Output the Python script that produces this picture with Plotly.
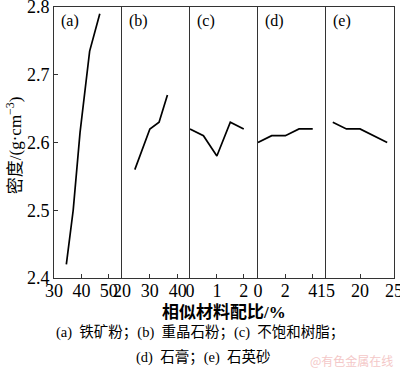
import plotly.graph_objects as go

# ---- data ----
a_x = [34.5, 37.0, 39.5, 43.0, 46.7]
a_y = [2.42, 2.50, 2.615, 2.735, 2.79]
b_x = [24.6, 30.0, 33.3, 36.3]
b_y = [2.56, 2.62, 2.63, 2.67]
c_x = [0, 0.5, 1.0, 1.5, 2.0]
c_y = [2.62, 2.61, 2.58, 2.63, 2.62]
d_x = [0, 1, 2, 3, 4]
d_y = [2.60, 2.61, 2.61, 2.62, 2.62]
e_x = [16, 18, 20, 22, 24]
e_y = [2.63, 2.62, 2.62, 2.61, 2.60]

panel_labels = ["(a)", "(b)", "(c)", "(d)", "(e)"]
x_ranges = [[30, 54.8], [20, 44.4], [0, 2.53], [0, 4.97], [15, 25]]
x_ticks = [[30, 40, 50], [20, 30, 40], [0, 1, 2], [0, 2, 4], [15, 20, 25]]
y_ticks = [2.4, 2.5, 2.6, 2.7, 2.8]
y_range = [2.4, 2.8]

x_title = "相似材料配比/%"
y_title = "密度/(g·cm<sup>−3</sup>)"
caption1 = "(a)  铁矿粉；(b)  重晶石粉；(c)  不饱和树脂；"
caption2 = "(d)  石膏；(e)  石英砂"
watermark = "@有色金属在线"

FONT = "Liberation Serif, Times New Roman, Noto Sans CJK SC, serif"
AXC = "#333333"

series = [(a_x, a_y), (b_x, b_y), (c_x, c_y), (d_x, d_y), (e_x, e_y)]

fig = go.Figure()
layout = dict(
    width=400, height=368,
    margin=dict(l=54, r=6, t=7, b=90, autoexpand=False),
    paper_bgcolor="white", plot_bgcolor="white",
    showlegend=False,
    font=dict(family=FONT, color="black", size=18),
)

n = len(series)
annotations = []
for i, (xs, ys) in enumerate(series):
    k = "" if i == 0 else str(i + 1)
    fig.add_trace(go.Scatter(
        x=xs, y=ys, mode="lines",
        line=dict(color="black", width=1.7),
        xaxis="x" + k, yaxis="y" + k,
        hoverinfo="skip", cliponaxis=False,
    ))
    layout["xaxis" + k] = dict(
        domain=[i / n, (i + 1) / n],
        range=x_ranges[i],
        tickmode="array", tickvals=x_ticks[i],
        ticks="inside", ticklen=4, tickcolor=AXC,
        showline=True, mirror=True, linecolor=AXC, linewidth=1,
        showgrid=False, zeroline=False,
        anchor="y" + k, automargin=False, ticklabeloverflow="allow",
        ticklabelstandoff=-4,
        tickfont=dict(family=FONT, size=18, color="black"),
    )
    ydict = dict(
        range=y_range,
        showline=True, mirror=(i == n - 1), linecolor=AXC, linewidth=1,
        showgrid=False, zeroline=False,
        anchor="x" + k, automargin=False,
    )
    if i == 0:
        ydict.update(
            tickmode="array", tickvals=y_ticks, tickformat=".1f",
            ticks="inside", ticklen=4, tickcolor=AXC, ticklabeloverflow="allow",
            tickfont=dict(family=FONT, size=18, color="black"),
        )
    else:
        ydict.update(matches="y", showticklabels=False, ticks="")
    layout["yaxis" + k] = ydict

    annotations.append(dict(
        text=panel_labels[i], xref="x" + k + " domain", yref="y" + k + " domain",
        x=0, y=1, xanchor="left", yanchor="top", xshift=5, yshift=-3,
        showarrow=False, font=dict(family=FONT, size=16, color="black"),
    ))

annotations += [
    dict(text="<b>" + x_title + "</b>", xref="paper", yref="paper",
         x=0.5, y=0, yshift=-34, xanchor="center", yanchor="middle",
         showarrow=False, font=dict(family=FONT, size=17, color="black")),
    dict(text=y_title, xref="paper", yref="paper", textangle=-90,
         x=0, y=0.49, xshift=-40, xanchor="center", yanchor="middle",
         showarrow=False, font=dict(family=FONT, size=17, color="black")),
    dict(text=caption1, xref="paper", yref="paper",
         x=0.429, y=0, yshift=-54, xanchor="center", yanchor="middle",
         showarrow=False, font=dict(family=FONT, size=14.5, color="black")),
    dict(text=caption2, xref="paper", yref="paper",
         x=0.44, y=0, yshift=-79, xanchor="center", yanchor="middle",
         showarrow=False, font=dict(family=FONT, size=14.5, color="black")),
    dict(text=watermark, xref="paper", yref="paper",
         x=1, y=0, xshift=1, yshift=-82, xanchor="right", yanchor="middle",
         showarrow=False, font=dict(family="Noto Sans CJK SC", size=12, color="#f4c8c8")),
]
layout["annotations"] = annotations
fig.update_layout(**layout)
fig.write_html(
    "out.html",
    config={"displayModeBar": False, "staticPlot": True},
    post_script="document.body.style.margin='0';document.body.style.overflow='hidden';",
)
